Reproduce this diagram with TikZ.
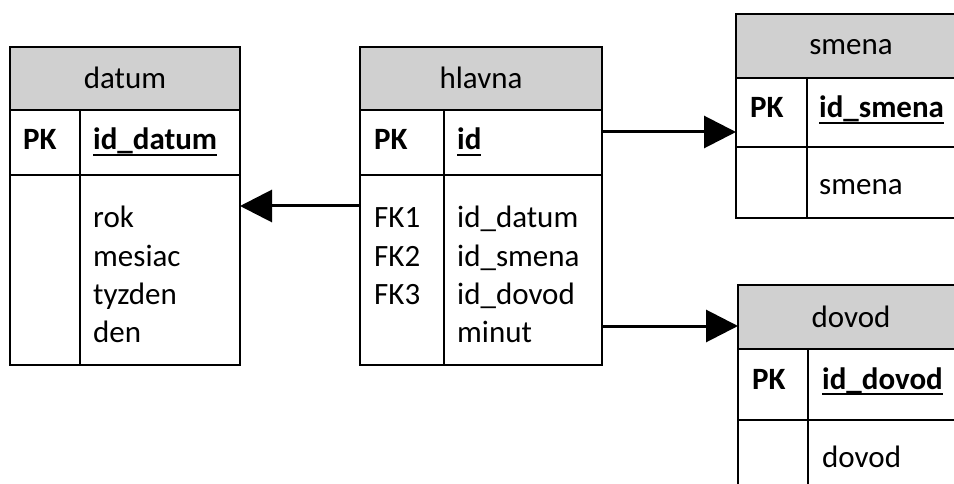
\documentclass[tikz,border=0pt]{standalone}
\usepackage{fontspec}
\setmainfont{Carlito}
\usetikzlibrary{arrows.meta}

\definecolor{headgray}{HTML}{D0D0D0}

% underlined key column name with a thin rule just below the baseline
\newcommand{\keyfield}[1]{\setbox0\hbox{\bfseries #1}\rlap{\vrule height -4pt depth 6pt width \wd0}\box0}

\tikzset{
  tblbox/.style={draw, line width=2pt, inner sep=0pt, outer sep=0pt, anchor=north west},
  tblhead/.style={tblbox, fill=headgray},
  rowline/.style={line width=2pt},
  celltext/.style={font=\fontsize{31}{38}\selectfont, inner sep=0pt, anchor=base west},
  headtext/.style={font=\fontsize{31}{38}\selectfont, inner sep=0pt, anchor=base},
  pktext/.style={celltext, font=\fontsize{31}{38}\selectfont\bfseries},
  fkarrow/.style={line width=3pt, -{Triangle[length=32pt, width=32pt]}}
}

\begin{document}
\begin{tikzpicture}[x=1pt, y=-1pt]
\useasboundingbox (0,0) rectangle (954,484);
\clip (0,0) rectangle (954,484);

% ---------- datum ----------
\node[tblbox, minimum width=230pt, minimum height=318pt] (datum) at (10,47) {};
\node[tblhead, minimum width=230pt, minimum height=63pt] (datumhead) at (10,47) {};
\draw[rowline] (10,175) -- (240,175);
\draw[rowline] (80,110) -- (80,365);
\node[headtext] (datumtitle) at (125,89) {datum};
\node[pktext] (datumpk) at (23,150) {PK};
\node[celltext] (datumkey) at (93,150) {\keyfield{id\_datum}};
\foreach \t [count=\i from 0] in {rok, mesiac, tyzden, den}
  \node[celltext] (datumcol\i) at (93,228+38.3*\i) {\t};

% ---------- hlavna ----------
\node[tblbox, minimum width=242pt, minimum height=318pt] (hlavna) at (360,47) {};
\node[tblhead, minimum width=242pt, minimum height=63pt] (hlavnahead) at (360,47) {};
\draw[rowline] (360,175) -- (602,175);
\draw[rowline] (444,110) -- (444,365);
\node[headtext] (hlavnatitle) at (481,89) {hlavna};
\node[pktext] (hlavnapk) at (374,150) {PK};
\node[celltext] (hlavnakey) at (457,150) {\keyfield{id}};
\foreach \t [count=\i from 0] in {FK1, FK2, FK3}
  \node[celltext] (hlavnafk\i) at (374,228+38.3*\i) {\t};
\foreach \t [count=\i from 0] in {id\_datum, id\_smena, id\_dovod, minut}
  \node[celltext] (hlavnacol\i) at (457,228+38.3*\i) {\t};

% ---------- smena ----------
\node[tblbox, minimum width=230pt, minimum height=204pt] (smena) at (736,14) {};
\node[tblhead, minimum width=230pt, minimum height=64pt] (smenahead) at (736,14) {};
\draw[rowline] (736,147) -- (966,147);
\draw[rowline] (807,78) -- (807,218);
\node[headtext] (smenatitle) at (851,55) {smena};
\node[pktext] (smenapk) at (750,118) {PK};
\node[celltext] (smenakey) at (819,118) {\keyfield{id\_smena}};
\node[celltext] (smenacol) at (819,195) {smena};

% ---------- dovod ----------
\node[tblbox, minimum width=228pt, minimum height=230pt] (dovod) at (738,285) {};
\node[tblhead, minimum width=228pt, minimum height=64pt] (dovodhead) at (738,285) {};
\draw[rowline] (738,420) -- (966,420);
\draw[rowline] (808,349) -- (808,515);
\node[headtext] (dovodtitle) at (851,327) {dovod};
\node[pktext] (dovodpk) at (752,389) {PK};
\node[celltext] (dovodkey) at (822,389) {\keyfield{id\_dovod}};
\node[celltext] (dovodcol) at (822,467) {dovod};

% ---------- foreign key references ----------
\coordinate (refdatum) at (0,206);
\coordinate (refsmena) at (0,132);
\coordinate (refdovod) at (0,326);
\draw[fkarrow] (hlavna.west |- refdatum) -- (datum.east |- refdatum);
\draw[fkarrow] (hlavna.east |- refsmena) -- (smena.west |- refsmena);
\draw[fkarrow] (hlavna.east |- refdovod) -- (dovod.west |- refdovod);
\end{tikzpicture}
\end{document}
